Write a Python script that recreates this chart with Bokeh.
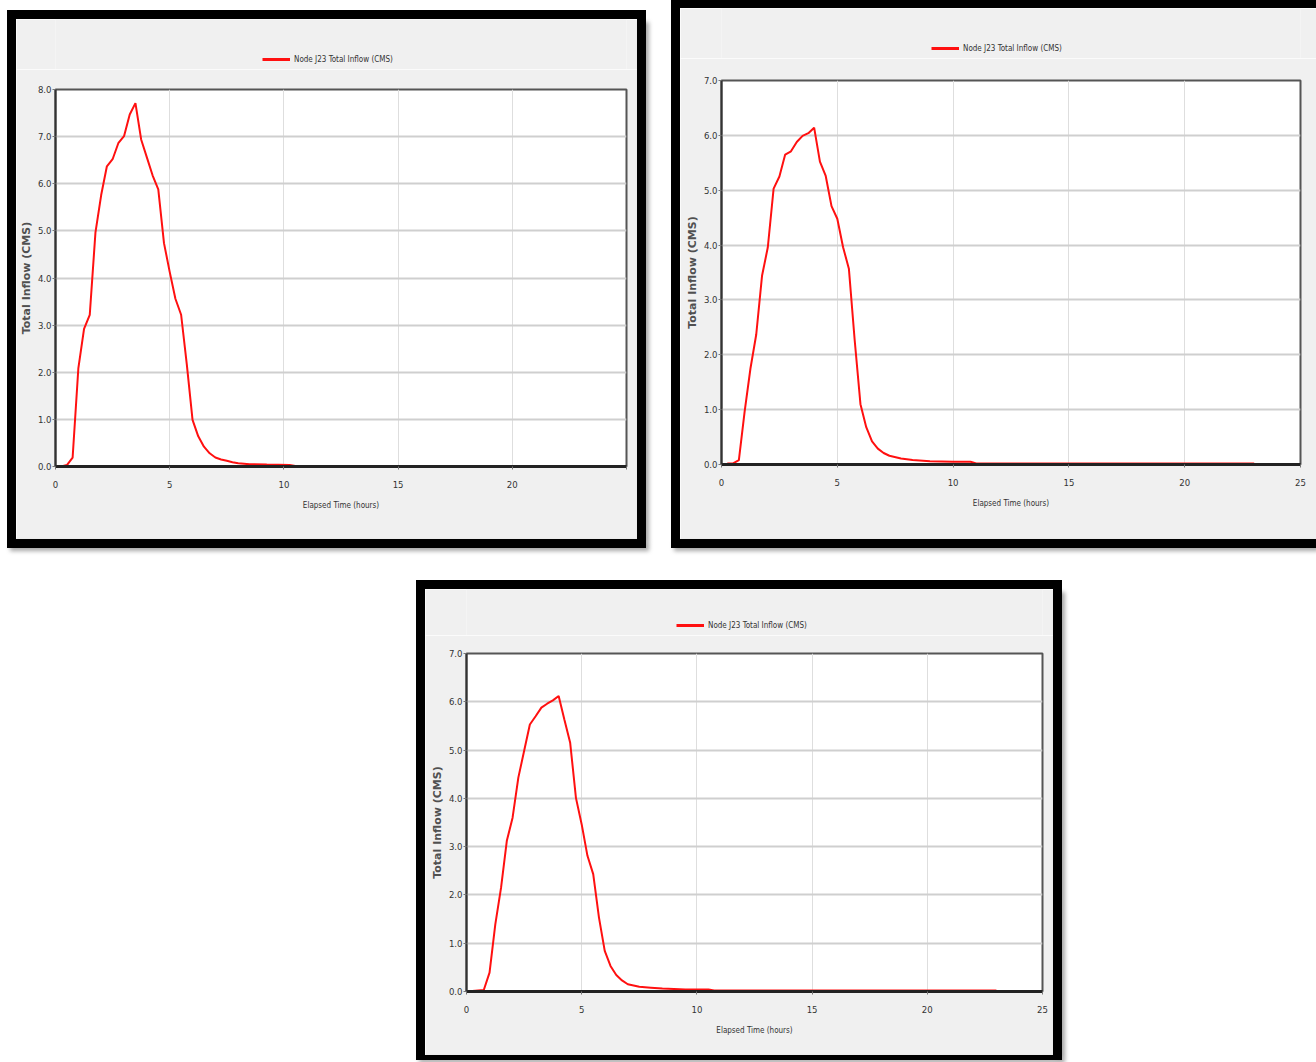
from bokeh.plotting import figure
from bokeh.models import Range1d, FixedTicker, NumeralTickFormatter, Legend, LegendItem, Spacer
from bokeh.layouts import row, column
from bokeh.embed import file_html
from bokeh.resources import INLINE

# ---------------- data ----------------
legend_label = "Node J23 Total Inflow (CMS)"
x_title = "Elapsed Time (hours)"
y_title = "Total Inflow (CMS)"
x_ticks = [0, 5, 10, 15, 20, 25]
y_ticks_1 = [0, 1, 2, 3, 4, 5, 6, 7, 8]
y_ticks_23 = [0, 1, 2, 3, 4, 5, 6, 7]

hours_1 = [0.25, 0.5, 0.75, 1.0, 1.25, 1.5, 1.75, 2.0, 2.25, 2.5, 2.75, 3.0, 3.25, 3.5,
           3.75, 4.0, 4.25, 4.5, 4.75, 5.0, 5.25, 5.5, 5.75, 6.0, 6.25, 6.5, 6.75, 7.0,
           7.25, 7.5, 7.75, 8.0, 8.5, 9.25, 10.25, 10.5, 23.0]
inflow_1 = [0.0, 0.03, 0.19, 2.08, 2.92, 3.22, 4.97, 5.76, 6.37, 6.52, 6.86, 7.01, 7.47, 7.71,
            6.94, 6.56, 6.18, 5.88, 4.74, 4.13, 3.56, 3.22, 2.16, 0.99, 0.64, 0.42, 0.28, 0.19,
            0.15, 0.12, 0.09, 0.07, 0.05, 0.04, 0.03, 0.01, 0.01]

hours_2 = [0.25, 0.5, 0.75, 1.0, 1.25, 1.5, 1.75, 2.0, 2.25, 2.5, 2.75, 3.0, 3.25, 3.5,
           3.75, 4.0, 4.25, 4.5, 4.75, 5.0, 5.25, 5.5, 5.75, 6.0, 6.25, 6.5, 6.75, 7.0,
           7.25, 7.75, 8.25, 9.0, 10.0, 10.75, 11.0, 23.0]
inflow_2 = [0.02, 0.02, 0.08, 0.97, 1.75, 2.37, 3.44, 3.96, 5.03, 5.25, 5.65, 5.71, 5.88, 5.99,
            6.04, 6.14, 5.52, 5.26, 4.71, 4.48, 3.96, 3.57, 2.27, 1.10, 0.68, 0.42, 0.29, 0.21,
            0.16, 0.11, 0.08, 0.06, 0.05, 0.05, 0.02, 0.02]

hours_3 = [0.25, 0.75, 1.0, 1.25, 1.5, 1.75, 2.0, 2.25, 2.5, 2.75, 3.0, 3.25, 3.5, 3.75,
           4.0, 4.25, 4.5, 4.75, 5.0, 5.25, 5.5, 5.75, 6.0, 6.25, 6.5, 6.75, 7.0, 7.5,
           8.0, 8.5, 9.5, 10.5, 10.75, 23.0]
inflow_3 = [0.01, 0.03, 0.39, 1.39, 2.15, 3.12, 3.60, 4.43, 4.98, 5.53, 5.70, 5.88, 5.96, 6.03,
            6.12, 5.63, 5.15, 4.01, 3.46, 2.81, 2.43, 1.53, 0.84, 0.53, 0.34, 0.23, 0.15, 0.10,
            0.08, 0.06, 0.04, 0.04, 0.02, 0.02]

NARROW = "'DejaVu Sans Condensed', 'Liberation Sans Narrow', sans-serif"
WIDE = "'DejaVu Sans', sans-serif"
GRAY = "#f0f0f0"
RED = "#ff1010"


def legend_strip(hours, inflow, width, height, x_off, y_off):
    # strip above the chart that carries the series legend (series itself kept out of view)
    q = figure(width=width, height=height, output_backend="svg", toolbar_location=None,
               x_axis_location=None, y_axis_location=None, min_border=0,
               x_range=Range1d(0, 25), y_range=Range1d(-2, -1))
    q.background_fill_color = GRAY
    q.border_fill_color = GRAY
    q.outline_line_color = None
    q.grid.visible = False
    r = q.line(hours, inflow, line_color=RED, line_width=3)
    legend = Legend(items=[LegendItem(label=legend_label, renderers=[r])],
                    location=(x_off, y_off), padding=0, margin=0, spacing=0,
                    glyph_width=28, glyph_height=12, label_standoff=4,
                    label_text_font=NARROW, label_text_font_size="8px",
                    label_text_color="#333333",
                    border_line_color=None, background_fill_alpha=0)
    q.add_layout(legend, "center")
    return q


def make_panel(hours, inflow, ymax, yticks, width, height, borders, hide_last_x):
    bl, br, bt, bb = borders
    p = figure(width=width, height=height, output_backend="svg", toolbar_location=None,
               x_range=Range1d(0, 25), y_range=Range1d(0, ymax),
               min_border_left=bl, min_border_right=br, min_border_top=bt,
               min_border_bottom=bb)
    p.background_fill_color = "white"
    p.border_fill_color = GRAY
    p.outline_line_color = "#555555"
    p.outline_line_width = 2

    p.line(hours, inflow, line_color=RED, line_width=2)

    p.xaxis.ticker = FixedTicker(ticks=x_ticks)
    p.yaxis.ticker = FixedTicker(ticks=yticks)
    p.yaxis.formatter = NumeralTickFormatter(format="0.0")
    if hide_last_x:
        p.xaxis.major_label_overrides = {25: ""}
    for ax in (p.xaxis[0], p.yaxis[0]):
        ax.minor_tick_line_color = None
        ax.major_tick_in = 0
        ax.major_tick_out = 3
        ax.major_tick_line_color = "#777777"
        ax.major_label_text_font = NARROW
        ax.major_label_text_font_size = "9.5px"
        ax.major_label_text_color = "#333333"
    p.xaxis.axis_line_color = "#222222"
    p.xaxis.axis_line_width = 3
    p.yaxis.axis_line_color = "#333333"
    p.yaxis.axis_line_width = 2
    p.xaxis.major_label_standoff = 11
    p.yaxis.major_label_standoff = 1

    p.xaxis.axis_label = x_title
    p.xaxis.axis_label_text_font = NARROW
    p.xaxis.axis_label_text_font_size = "8px"
    p.xaxis.axis_label_text_font_style = "normal"
    p.xaxis.axis_label_text_color = "#333333"
    p.xaxis.axis_label_standoff = 10

    p.yaxis.axis_label = y_title
    p.yaxis.axis_label_text_font = WIDE
    p.yaxis.axis_label_text_font_size = "11px"
    p.yaxis.axis_label_text_font_style = "bold"
    p.yaxis.axis_label_text_color = "#505050"
    p.yaxis.axis_label_standoff = 2

    p.ygrid.grid_line_color = "#cfcfcf"
    p.ygrid.grid_line_width = 2
    p.xgrid.grid_line_color = "#dedede"
    p.xgrid.grid_line_width = 1
    return p


SHADOW = {"background-color": "black", "box-shadow": "3px 3px 4px rgba(0,0,0,0.35)"}


def black(w, h, shadow=False):
    return Spacer(width=w, height=h,
                  styles=SHADOW if shadow else {"background-color": "black"})


def framed(inner, w, h, left, right, top, bottom):
    mid = [black(left, h)] if left else []
    mid.append(inner)
    if right:
        mid.append(black(right, h, True))
    parts = []
    total_w = w + left + right
    if top:
        parts.append(black(total_w, top))
    parts.append(row(*mid))
    if bottom:
        parts.append(black(total_w, bottom, True))
    return column(*parts)


# panel 1: outer 7..646 x 10..548 ; inner 16..637 x 19..539
leg1 = legend_strip(hours_1, inflow_1, 621, 50, 207, 4)
p1 = make_panel(hours_1, inflow_1, 8, y_ticks_1, 621, 470, (39, 11, 20, 73), True)
box1 = framed(column(leg1, p1), 621, 520, 9, 9, 9, 9)

# panel 2: outer 671..1316 x 0..548 ; inner 680..1316 x 8..539
leg2 = legend_strip(hours_2, inflow_2, 636, 50, 210, 4)
p2 = make_panel(hours_2, inflow_2, 7, y_ticks_23, 636, 481, (41, 16, 22, 75), False)
box2 = framed(column(leg2, p2), 636, 531, 9, 0, 8, 9)

# panel 3: outer 416..1062 x 580..1060 ; inner 425..1053 x 589..1055
leg3 = legend_strip(hours_3, inflow_3, 628, 46, 210, 4)
p3 = make_panel(hours_3, inflow_3, 7, y_ticks_23, 628, 420, (41, 11, 18, 64), False)
box3 = framed(column(leg3, p3), 628, 466, 9, 9, 9, 5)

top_row = row(Spacer(width=7), column(Spacer(height=10), box1), Spacer(width=25), box2)
bottom_row = row(Spacer(width=416), box3)
layout = column(top_row, Spacer(height=32), bottom_row)

open("out.html", "w").write(file_html(layout, INLINE))
